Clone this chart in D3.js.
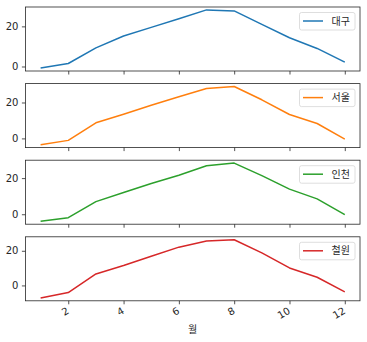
<!DOCTYPE html>
<html><head><meta charset="utf-8">
<script src="https://cdn.jsdelivr.net/npm/d3@7"></script>
<style>
html,body{margin:0;padding:0;background:#fff;}
text{font-family:"Noto Sans CJK KR","Noto Sans",sans-serif;}
</style></head>
<body><svg id="chart" width="367" height="342"></svg>
<script>
const months = [1,2,3,4,5,6,7,8,9,10,11,12];
const seriesNames = ["대구","서울","인천","철원"];
const daegu   = [-0.8, 1.5, 9.3, 15.2, 19.5, 23.8, 28.2, 27.7, 21.0, 14.3, 9.0, 2.2];
const seoul   = [-3.5, -1.1, 8.7, 13.5, 18.5, 23.2, 27.8, 28.9, 21.5, 13.3, 8.3, -0.4];
const incheon = [-3.9, -1.9, 7.0, 12.0, 17.0, 21.6, 26.8, 28.3, 21.4, 13.9, 8.5, -0.2];
const cheorwon= [-7.2, -4.1, 6.6, 11.5, 16.8, 22.1, 25.6, 26.4, 18.8, 10.1, 4.7, -3.7];
const seriesValues = [daegu, seoul, incheon, cheorwon];
const colors = ["#1f77b4","#ff7f0e","#2ca02c","#d62728"];
const xTicks = [2,4,6,8,10,12];
const yTicks = [0,20];
const xLabel = "월";

const svg = d3.select("#chart");
const left = 25.4, right = 360;
const panelTop0 = 7, panelStep = 76.6, panelH = 64;
const x = d3.scaleLinear().domain([0.45, 12.55]).range([left, right]);

seriesValues.forEach((vals, i) => {
  const top = panelTop0 + i*panelStep;
  const [mn, mx] = d3.extent(vals);
  const pad = (mx - mn)*0.05;
  const y = d3.scaleLinear().domain([mn - pad, mx + pad]).range([top + panelH, top]);
  const g = svg.append("g");

  // line
  g.append("path").datum(vals)
    .attr("fill","none").attr("stroke",colors[i]).attr("stroke-width",1.5)
    .attr("stroke-linejoin","round")
    .attr("d", d3.line().x((d,j)=>x(months[j])).y(d=>y(d)));

  // y axis
  const ya = g.append("g").attr("transform",`translate(${left},0)`)
    .call(d3.axisLeft(y).tickValues(yTicks).tickSize(3.5).tickPadding(3.5).tickFormat(d3.format("d")));
  ya.select(".domain").remove();
  ya.selectAll("line").attr("stroke","#262626").attr("stroke-width",0.8);
  ya.selectAll("text").attr("font-size",10).attr("fill","#262626")
    .style("font-family",'"DejaVu Sans",sans-serif');

  // x axis
  const xa = g.append("g").attr("transform",`translate(0,${top+panelH})`)
    .call(d3.axisBottom(x).tickValues(xTicks).tickSize(3.5).tickPadding(3.5));
  xa.select(".domain").remove();
  xa.selectAll("line").attr("stroke","#262626").attr("stroke-width",0.8);
  if (i === seriesValues.length - 1) {
    xa.selectAll("text").attr("font-size",10).attr("fill","#262626")
      .style("font-family",'"DejaVu Sans",sans-serif')
      .attr("text-anchor","end").attr("dy",null).attr("y",null)
      .attr("transform","translate(1,12) rotate(-30)");
  } else {
    xa.selectAll("text").remove();
  }

  // frame
  g.append("rect").attr("x",left).attr("y",top).attr("width",right-left).attr("height",panelH)
    .attr("fill","none").attr("stroke","#262626").attr("stroke-width",0.8);

  // legend
  const lx = 299.5, ly = top + 5.5;
  g.append("rect").attr("x",lx).attr("y",ly).attr("width",55.5).attr("height",17.5)
    .attr("rx",2).attr("fill","#fff").attr("fill-opacity",0.8)
    .attr("stroke","#d6d6d6").attr("stroke-width",0.8);
  g.append("line").attr("x1",lx+3.5).attr("x2",lx+23.5).attr("y1",ly+8.5).attr("y2",ly+8.5)
    .attr("stroke",colors[i]).attr("stroke-width",1.5);
  g.append("text").attr("x",lx+32).attr("y",ly+8.5).attr("dy","0.35em")
    .attr("font-size",10).attr("fill","#262626").text(seriesNames[i]);
});

svg.append("text").attr("x",(left+right)/2).attr("y",333)
  .attr("text-anchor","middle").attr("font-size",10).attr("fill","#262626").text(xLabel);
</script></body></html>
